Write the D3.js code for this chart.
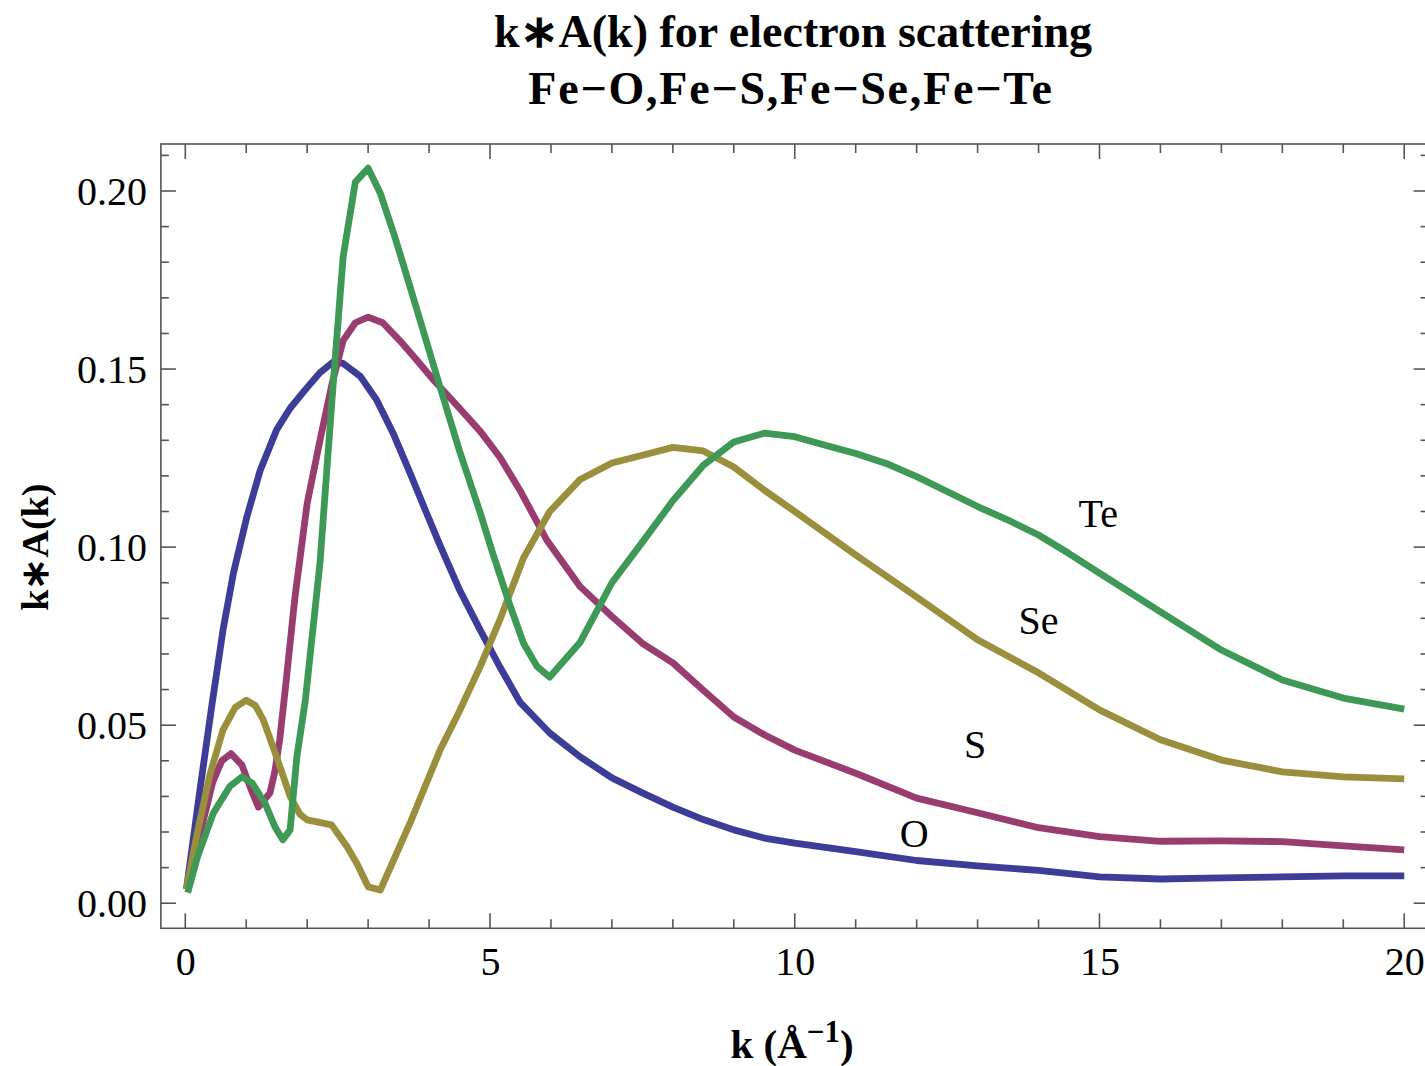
<!DOCTYPE html>
<html>
<head>
<meta charset="utf-8">
<script src="https://cdn.jsdelivr.net/npm/d3@7"></script>
<style>
  html, body { margin: 0; padding: 0; background: #fff; }
  svg { display: block; }
  text { font-family: "Liberation Serif", "Times New Roman", serif; fill: #000; }
</style>
</head>
<body>
<svg id="chart" width="1425" height="1066"></svg>
<script>
// k*A(k) curves for electron scattering, k in inverse Angstrom
const kO = [0.02, 0.25, 0.44, 0.62, 0.79, 1.01, 1.23, 1.5, 1.72, 1.96, 2.21, 2.43, 2.59, 2.87, 3.14, 3.41, 3.69, 3.96, 4.18, 4.5, 4.84, 5.16, 5.49, 5.98, 6.48, 7.0, 7.5, 8.0, 8.5, 9.0, 9.5, 10, 11, 12, 13, 14, 15, 16, 17, 18, 19, 20];
const valO = [0.004, 0.033, 0.056, 0.0768, 0.0927, 0.1085, 0.1216, 0.133, 0.139, 0.144, 0.149, 0.152, 0.1516, 0.148, 0.1413, 0.132, 0.1207, 0.1095, 0.1005, 0.088, 0.0767, 0.0664, 0.0565, 0.0478, 0.0411, 0.0352, 0.031, 0.027, 0.0235, 0.0206, 0.0183, 0.0169, 0.0145, 0.012, 0.0105, 0.0092, 0.0074, 0.0068, 0.0071, 0.0074, 0.0077, 0.0077];

const kS = [0.02, 0.25, 0.45, 0.6, 0.75, 0.93, 1.06, 1.2, 1.39, 1.47, 1.55, 1.64, 1.8, 2.0, 2.21, 2.41, 2.59, 2.79, 3.0, 3.24, 3.52, 3.8, 4.07, 4.5, 4.84, 5.16, 5.49, 5.93, 6.48, 7.0, 7.5, 8.0, 8.5, 9.0, 9.5, 10, 11, 12, 13, 14, 15, 16, 17, 18, 19, 20];
const valS = [0.004, 0.02, 0.034, 0.04, 0.042, 0.0388, 0.0328, 0.027, 0.031, 0.037, 0.046, 0.06, 0.086, 0.1123, 0.130, 0.146, 0.158, 0.163, 0.1646, 0.163, 0.158, 0.1525, 0.147, 0.139, 0.1325, 0.1253, 0.116, 0.102, 0.0889, 0.0805, 0.073, 0.0675, 0.0598, 0.0523, 0.0473, 0.043, 0.0365, 0.0295, 0.0254, 0.0212, 0.0187, 0.0174, 0.0175, 0.0173, 0.0161, 0.015];

const kSe = [0.02, 0.2, 0.41, 0.62, 0.82, 1.0, 1.15, 1.28, 1.5, 1.72, 1.88, 2.0, 2.4, 2.65, 2.82, 3.0, 3.2, 3.7, 4.18, 4.5, 4.84, 5.16, 5.55, 5.98, 6.48, 7.0, 7.5, 8.0, 8.5, 9.0, 9.5, 10, 11, 12, 13, 14, 15, 16, 17, 18, 19, 20];
const valSe = [0.004, 0.02, 0.0365, 0.0487, 0.055, 0.057, 0.0555, 0.0515, 0.041, 0.030, 0.025, 0.0234, 0.022, 0.016, 0.011, 0.0046, 0.0037, 0.023, 0.043, 0.054, 0.0665, 0.0795, 0.097, 0.110, 0.119, 0.1236, 0.1258, 0.128, 0.127, 0.1225, 0.116, 0.110, 0.0978, 0.086, 0.074, 0.0647, 0.0543, 0.0459, 0.0402, 0.0369, 0.0355, 0.0349];

const kTe = [0.04, 0.2, 0.46, 0.73, 0.93, 1.1, 1.31, 1.47, 1.6, 1.72, 1.83, 1.97, 2.21, 2.41, 2.59, 2.79, 3.0, 3.2, 3.44, 3.69, 4.18, 4.5, 4.84, 5.05, 5.3, 5.55, 5.77, 5.98, 6.48, 7.0, 7.5, 8.0, 8.5, 9.0, 9.5, 10, 10.5, 11, 11.5, 12, 12.5, 13, 13.5, 14, 14.5, 15, 16, 17, 18, 19, 20];
const valTe = [0.003, 0.013, 0.0253, 0.0328, 0.0355, 0.0337, 0.028, 0.0215, 0.0178, 0.0206, 0.041, 0.057, 0.0955, 0.142, 0.1815, 0.2025, 0.2064, 0.1994, 0.187, 0.173, 0.145, 0.127, 0.1096, 0.098, 0.085, 0.073, 0.0665, 0.0635, 0.0733, 0.090, 0.1014, 0.113, 0.123, 0.1295, 0.132, 0.131, 0.1286, 0.1263, 0.1235, 0.1198, 0.1156, 0.1114, 0.1076, 0.1034, 0.0982, 0.0927, 0.0818, 0.0711, 0.0627, 0.0576, 0.0545];

const seriesNames = ["O", "S", "Se", "Te"];
const seriesColors = ["#3d3d99", "#993d71", "#998f3d", "#3d9955"];
// label anchor points (k, value) for the in-plot element names
const labelK = [11.96, 12.96, 14.0, 14.98];
const labelV = [0.0195, 0.0445, 0.0795, 0.1095];

const xTicksMajor = [0, 5, 10, 15, 20];
const yTicksMajor = [0.00, 0.05, 0.10, 0.15, 0.20];
const titleLines = ["k\u2217A(k) for electron scattering", "Fe\u2212O,Fe\u2212S,Fe\u2212Se,Fe\u2212Te"];

(function draw() {
  const svg = d3.select("#chart");
  const pL = 160.9, pR = 1428.6, pT = 144, pB = 928.3;

  const x = d3.scaleLinear().domain([-0.4, 20.4]).range([pL, pR]);
  const y = d3.scaleLinear().domain([-0.00704, 0.2132]).range([pB, pT]);

  const kArrays = [kO, kS, kSe, kTe];
  const vArrays = [valO, valS, valSe, valTe];

  // frame
  svg.append("rect")
    .attr("x", pL).attr("y", pT)
    .attr("width", pR - pL).attr("height", pB - pT)
    .attr("fill", "none").attr("stroke", "#555").attr("stroke-width", 1.6);

  // ticks on all four sides, major every 5 (x) / 0.05 (y), minor between
  const xMinor = d3.range(0, 21, 1).filter(v => v % 5 !== 0);
  const yMinor = d3.range(0, 22).map(i => i / 100).filter(v => Math.round(v * 100) % 5 !== 0);

  const tickG = svg.append("g").attr("stroke", "#555").attr("stroke-width", 1.6);
  function vTicks(vals, len) {
    vals.forEach(v => {
      tickG.append("line").attr("x1", x(v)).attr("x2", x(v)).attr("y1", pB).attr("y2", pB - len);
      tickG.append("line").attr("x1", x(v)).attr("x2", x(v)).attr("y1", pT).attr("y2", pT + len);
    });
  }
  function hTicks(vals, len) {
    vals.forEach(v => {
      tickG.append("line").attr("y1", y(v)).attr("y2", y(v)).attr("x1", pL).attr("x2", pL + len);
      tickG.append("line").attr("y1", y(v)).attr("y2", y(v)).attr("x1", pR).attr("x2", pR - len);
    });
  }
  vTicks(xTicksMajor, 15);
  vTicks(xMinor, 9);
  hTicks(yTicksMajor, 15);
  hTicks(yMinor, 8);

  // tick labels via d3 axes (lines hidden, text kept)
  const xAxis = svg.append("g")
    .attr("transform", `translate(0,${pB})`)
    .call(d3.axisBottom(x).tickValues(xTicksMajor).tickFormat(d3.format("d")).tickSize(0).tickPadding(0));
  xAxis.select(".domain").remove();
  xAxis.selectAll("text")
    .attr("dy", null).attr("y", 47)
    .style("font-family", "'Liberation Serif', serif").style("font-size", "40px").attr("fill", "#000");

  const yAxis = svg.append("g")
    .attr("transform", `translate(${pL},0)`)
    .call(d3.axisLeft(y).tickValues(yTicksMajor).tickFormat(d3.format(".2f")).tickSize(0).tickPadding(0));
  yAxis.select(".domain").remove();
  yAxis.selectAll("text")
    .attr("x", -14).attr("dy", "0.33em")
    .style("font-family", "'Liberation Serif', serif").style("font-size", "40px").attr("fill", "#000");

  // curves
  svg.append("defs").append("clipPath").attr("id", "plotClip")
    .append("rect").attr("x", pL).attr("y", pT).attr("width", pR - pL).attr("height", pB - pT);

  const line = d3.line().x(d => x(d[0])).y(d => y(d[1]));
  const curveG = svg.append("g").attr("clip-path", "url(#plotClip)");
  seriesNames.forEach((name, i) => {
    const pts = kArrays[i].map((k, j) => [k, vArrays[i][j]]);
    curveG.append("path")
      .datum(pts)
      .attr("d", line)
      .attr("fill", "none")
      .attr("stroke", seriesColors[i])
      .attr("stroke-width", 6.8)
      .attr("stroke-linejoin", "round");
  });

  // element labels
  seriesNames.forEach((name, i) => {
    svg.append("text")
      .attr("x", x(labelK[i])).attr("y", y(labelV[i]))
      .attr("text-anchor", "middle").attr("dominant-baseline", "central")
      .style("font-size", "40px")
      .text(name);
  });

  // title
  titleLines.forEach((t, i) => {
    svg.append("text")
      .attr("x", i === 0 ? 793 : 791).attr("y", 47 + i * 57)
      .attr("text-anchor", "middle")
      .style("font-size", "46px").style("font-weight", "bold")
      .style("letter-spacing", i === 0 ? "0px" : "1.8px")
      .text(t);
  });

  // axis titles
  const xl = svg.append("text")
    .attr("x", 792).attr("y", 1058)
    .attr("text-anchor", "middle")
    .style("font-size", "41px").style("font-weight", "bold");
  xl.append("tspan").text("k (\u00C5");
  xl.append("tspan").attr("dy", -16).style("font-size", "31px").text("\u22121");
  xl.append("tspan").attr("dy", 16).text(")");

  svg.append("text")
    .attr("transform", `translate(48,${y(0.1)}) rotate(-90)`)
    .attr("text-anchor", "middle")
    .style("font-size", "38px").style("font-weight", "bold")
    .text("k\u2217A(k)");
})();
</script>
</body>
</html>
